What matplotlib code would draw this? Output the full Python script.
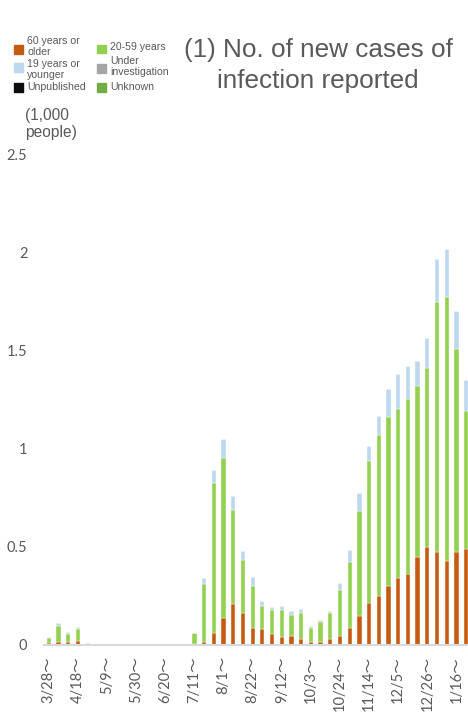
import matplotlib
matplotlib.use("Agg")
import matplotlib.pyplot as plt
from matplotlib.patches import Rectangle
import numpy as np

weeks = ["3/28", "4/4", "4/11", "4/18", "4/25", "5/2", "5/9", "5/16", "5/23", "5/30",
         "6/6", "6/13", "6/20", "6/27", "7/4", "7/11", "7/18", "7/25", "8/1", "8/8",
         "8/15", "8/22", "8/29", "9/5", "9/12", "9/19", "9/26", "10/3", "10/10", "10/17",
         "10/24", "10/31", "11/7", "11/14", "11/21", "11/28", "12/5", "12/12", "12/19", "12/26",
         "1/2", "1/9", "1/16", "1/23"]

older = [0.008, 0.013, 0.017, 0.020, 0.002, 0.001, 0.001, 0, 0, 0,
         0, 0, 0, 0, 0, 0.006, 0.017, 0.060, 0.136, 0.210,
         0.163, 0.085, 0.081, 0.056, 0.041, 0.046, 0.031, 0.017, 0.015, 0.029,
         0.046, 0.088, 0.149, 0.216, 0.249, 0.302, 0.343, 0.363, 0.446, 0.499,
         0.472, 0.426, 0.475, 0.490]
age20_59 = [0.029, 0.085, 0.039, 0.060, 0.009, 0.004, 0.004, 0.001, 0, 0.001,
            0.001, 0.002, 0, 0.001, 0.001, 0.054, 0.295, 0.765, 0.816, 0.477,
            0.270, 0.215, 0.118, 0.122, 0.137, 0.107, 0.132, 0.071, 0.102, 0.132,
            0.234, 0.336, 0.535, 0.721, 0.820, 0.861, 0.859, 0.891, 0.874, 0.913,
            1.276, 1.347, 1.030, 0.701]
younger = [0.003, 0.012, 0.009, 0.010, 0.001, 0.001, 0.001, 0, 0, 0,
           0.001, 0.001, 0, 0, 0.001, 0.002, 0.028, 0.065, 0.097, 0.072,
           0.047, 0.045, 0.025, 0.017, 0.022, 0.022, 0.019, 0.009, 0.010, 0.012,
           0.035, 0.060, 0.088, 0.078, 0.099, 0.142, 0.178, 0.166, 0.126, 0.151,
           0.219, 0.245, 0.194, 0.158]
unpublished = [0] * len(weeks)
under_investigation = [0] * len(weeks)
unknown = [0] * len(weeks)

series_labels = ["60 years or\nolder", "19 years or\nyounger", "Unpublished",
                 "20-59 years", "Under\ninvestigation", "Unknown"]
series_colors = ["#C55A11", "#BDD7EE", "#0D0D0D", "#92D050", "#A5A5A5", "#70AD47"]

tick_every = 3
yticks = [0, 0.5, 1, 1.5, 2, 2.5]
ytick_labels = ["0", "0.5", "1", "1.5", "2", "2.5"]

W, H = 468, 712
fig = plt.figure(figsize=(W / 100, H / 100), dpi=100)
ax = fig.add_axes([44 / W, (H - 645) / H, (471 - 44) / W, (645 - 154) / H])

x = np.arange(len(weeks))
stack_order = [(older, series_colors[0]), (age20_59, series_colors[3]),
               (younger, series_colors[1]), (unpublished, series_colors[2]),
               (under_investigation, series_colors[4]), (unknown, series_colors[5])]
bottom = np.zeros(len(weeks))
for vals, col in stack_order:
    v = np.array(vals, dtype=float)
    ax.bar(x, v, bottom=bottom, width=0.44, color=col, edgecolor="white",
           linewidth=0.3)
    bottom += v

ax.set_xlim(-0.5, len(weeks) - 0.5)
ax.set_ylim(0, 2.5)
ax.set_yticks(yticks)
ax.set_yticklabels(ytick_labels)
tick_idx = list(range(0, len(weeks), tick_every))
ax.set_xticks(tick_idx)
ax.set_xticklabels([weeks[i] + "～" for i in tick_idx], rotation=90,
                   ha="center", va="top")
for lab in ax.get_xticklabels():
    lab.set_family(["Lato", "Noto Sans CJK JP"])
    lab.set_fontsize(10.5)
    lab.set_color("#595959")
for lab in ax.get_yticklabels():
    lab.set_family(["Lato"])
    lab.set_fontsize(10.5)
    lab.set_color("#595959")
ax.tick_params(axis="both", length=0)
ax.tick_params(axis="y", pad=12)
ax.tick_params(axis="x", pad=8)
for s in ["top", "right", "left"]:
    ax.spines[s].set_visible(False)
ax.spines["bottom"].set_color("#D9D9D9")
ax.spines["bottom"].set_linewidth(1.5)

# Title
fig.text(318 / W, 1 - 50 / H, "(1) No. of new cases of", ha="center", va="center",
         fontsize=18.8, color="#595959", family="Liberation Sans")
fig.text(318 / W, 1 - 81 / H, "infection reported", ha="center", va="center",
         fontsize=18.8, color="#595959", family="Liberation Sans")

# Unit label
fig.text(25 / W, 1 - 124 / H, "(1,000\npeople)", ha="left", va="center",
         fontsize=11.2, color="#595959", family="Liberation Sans", linespacing=1.1)

# Legend (manual): (square x, square center y, text center y)
leg_pos = [(14, 49.5, 46.5), (14, 67.5, 69.5), (14, 87.5, 87.5),
           (97, 49, 47.5), (97, 68.5, 66.5), (97, 87.5, 87.5)]
for (lx, sy, ty), lab, col in zip(leg_pos, series_labels, series_colors):
    fig.patches.append(Rectangle((lx / W, 1 - (sy + 4.25) / H), 8.5 / W, 8.5 / H,
                                 transform=fig.transFigure, color=col))
    fig.text((lx + 13) / W, 1 - ty / H, lab, ha="left", va="center",
             fontsize=7.6, color="#595959", family="Liberation Sans", linespacing=1.08)

fig.savefig("out.png", dpi=100, facecolor="white")
